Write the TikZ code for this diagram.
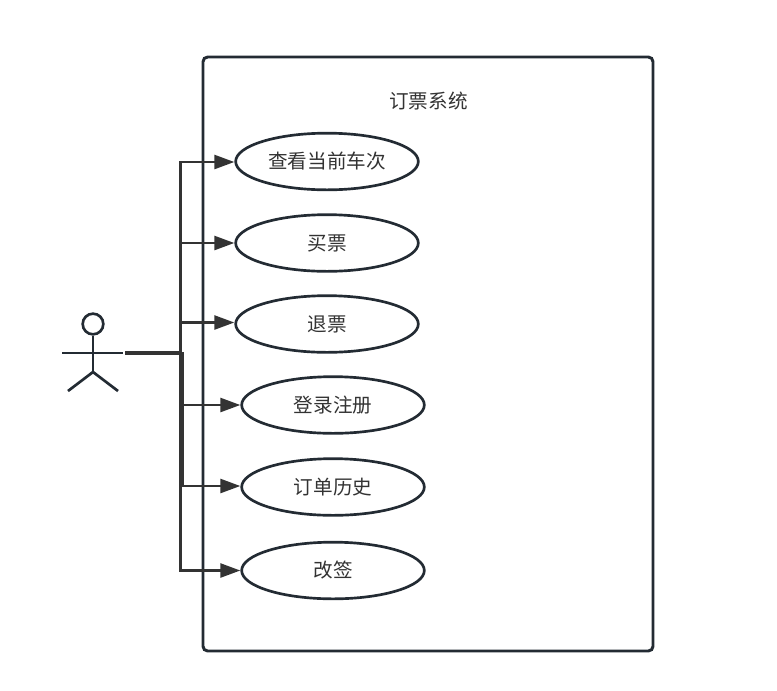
\documentclass[tikz,border=0pt]{standalone}
\usepackage{fontspec}
\setmainfont{Noto Sans CJK SC}
\usetikzlibrary{shapes.geometric,arrows.meta,calc}
\definecolor{umlline}{HTML}{232B33}
\definecolor{umllink}{HTML}{333333}
\tikzset{
	usecase/.style={draw=umlline, line width=2pt, ellipse, inner sep=0pt, minimum width=137pt, minimum height=42.5pt, text=umllink, font=\fontsize{14.7}{16}\selectfont},
	system/.style={draw=umlline, line width=2.2pt, rounded corners=3.5pt, inner sep=0pt, minimum width=337.5pt, minimum height=445.5pt},
	stick/.style={draw=umlline, line width=2pt},
	link/.style={draw=umllink, line width=1.9pt, -{Triangle[length=15pt,width=10.5pt]}},
	heavylink/.style={draw=umllink, line width=3pt},
}

\begin{document}
\begin{tikzpicture}[x=0.75pt, y=-0.75pt]
	\useasboundingbox[fill=white] (0,0) rectangle (777,690);

	\node[system] (OrderSystem) at (428,354) {};
	\node[text=umllink, font=\fontsize{14.7}{16}\selectfont] (SystemTitle) at (428.5,101) {订票系统};

	\node[usecase] (ViewTrains) at (327,161.5) {查看当前车次};
	\node[usecase] (BuyTicket) at (327,243) {买票};
	\node[usecase] (RefundTicket) at (327,324) {退票};
	\node[usecase] (LoginRegister) at (333,405) {登录注册};
	\node[usecase] (OrderHistory) at (333,487) {订单历史};
	\node[usecase] (ChangeTicket) at (333,570.5) {改签};

	% actor
	\node[circle, stick, inner sep=0pt, minimum size=15.5pt] (ActorHead) at (93,324) {};
	\coordinate (ActorBody) at (93,372);
	\coordinate (ArmLeft) at (62,353);
	\coordinate (ArmRight) at (123,353);
	\coordinate (LegLeft) at (68,391);
	\coordinate (LegRight) at (118,391);
	\coordinate (ActorHand) at (125,353);
	\coordinate (Trunk) at (180.5,353);
	\coordinate (TrunkTop) at (181.5,352);
	\coordinate (TrunkEnd) at (181.5,486);
	\draw[stick] (ActorHead) -- (ActorBody);
	\draw[stick] (ArmLeft) -- (ArmRight);
	\draw[stick] (LegLeft) -- (ActorBody) -- (LegRight);

	\draw[link] (ActorHand) -- (Trunk) |- ($(ViewTrains.west)+(0,0.5)$);
	\draw[link] (ActorHand) -- (Trunk) |- (BuyTicket.west);
	\draw[link] (ActorHand) -- (Trunk) |- ($(RefundTicket.west)+(0,-1.5)$);
	\draw[link] (ActorHand) -- (Trunk) |- (LoginRegister.west);
	\draw[link] (ActorHand) -- (Trunk) |- ($(OrderHistory.west)+(0,-1)$);
	\draw[link] (ActorHand) -- (Trunk) |- (ChangeTicket.west);
	\draw[heavylink] (ActorHand) -- (Trunk);
	\draw[heavylink] (TrunkTop) -- (TrunkEnd);
\end{tikzpicture}
\end{document}
